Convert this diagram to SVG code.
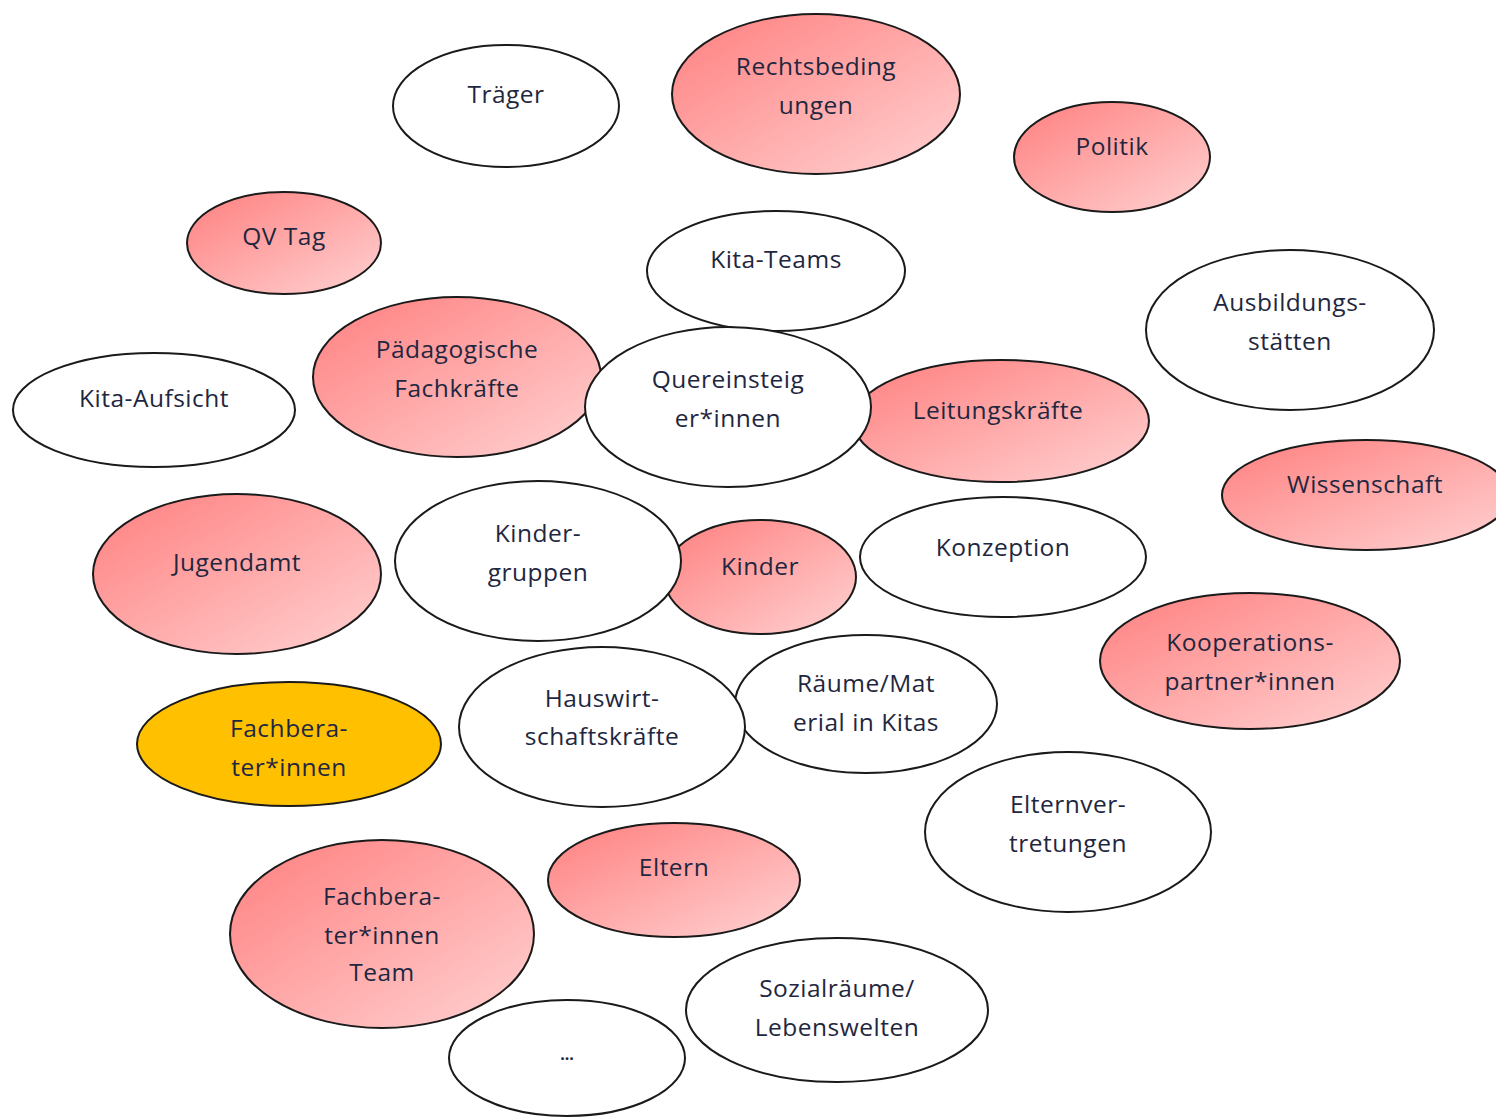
<svg xmlns="http://www.w3.org/2000/svg" width="1496" height="1118" viewBox="0 0 1496 1118">
<defs>
<linearGradient id="pink" x1="0" y1="0" x2="1" y2="1">
<stop offset="0" stop-color="#ff7f7f"/>
<stop offset="1" stop-color="#ffd2d2"/>
</linearGradient>
<style>
.n ellipse{stroke:#1a1a1a;stroke-width:2}
.w ellipse{fill:#ffffff}
.p ellipse{fill:url(#pink)}
.g ellipse{fill:#ffc000}
text{font-family:"Open Sans","Noto Sans","Liberation Sans",sans-serif;font-size:24.5px;letter-spacing:0.5px;fill:#1f2740;text-anchor:middle}
</style>
</defs>
<rect width="1496" height="1118" fill="#ffffff"/>
<g id="connectors"/>
<g id="traeger" class="n w"><ellipse cx="506" cy="106" rx="113" ry="61"/><text x="506" y="103">Träger</text></g>
<g id="rechtsbedingungen" class="n p"><ellipse cx="816" cy="94" rx="144" ry="80"/><text x="816" y="75">Rechtsbeding</text><text x="816" y="114">ungen</text></g>
<g id="politik" class="n p"><ellipse cx="1112" cy="157" rx="98" ry="55"/><text x="1112" y="155">Politik</text></g>
<g id="qvtag" class="n p"><ellipse cx="284" cy="243" rx="97" ry="51"/><text x="284" y="245">QV Tag</text></g>
<g id="kitateams" class="n w"><ellipse cx="776" cy="271" rx="129" ry="60"/><text x="776" y="268">Kita-Teams</text></g>
<g id="ausbildungsstaetten" class="n w"><ellipse cx="1290" cy="330" rx="144" ry="80"/><text x="1290" y="311">Ausbildungs-</text><text x="1290" y="350">stätten</text></g>
<g id="paedagogische" class="n p"><ellipse cx="457" cy="377" rx="144" ry="80"/><text x="457" y="358">Pädagogische</text><text x="457" y="397">Fachkräfte</text></g>
<g id="kitaaufsicht" class="n w"><ellipse cx="154" cy="410" rx="141" ry="57"/><text x="154" y="407">Kita-Aufsicht</text></g>
<g id="leitungskraefte" class="n p"><ellipse cx="1001" cy="421" rx="148" ry="61"/><text x="998" y="419">Leitungskräfte</text></g>
<g id="quereinsteiger" class="n w"><ellipse cx="728" cy="407" rx="143" ry="80"/><text x="728" y="388">Quereinsteig</text><text x="728" y="427">er*innen</text></g>
<g id="wissenschaft" class="n p"><ellipse cx="1366" cy="495" rx="144" ry="55"/><text x="1365" y="493">Wissenschaft</text></g>
<g id="jugendamt" class="n p"><ellipse cx="237" cy="574" rx="144" ry="80"/><text x="237" y="571">Jugendamt</text></g>
<g id="kinder" class="n p"><ellipse cx="760" cy="577" rx="96" ry="57"/><text x="760" y="575">Kinder</text></g>
<g id="kindergruppen" class="n w"><ellipse cx="538" cy="561" rx="143" ry="80"/><text x="538" y="542">Kinder-</text><text x="538" y="581">gruppen</text></g>
<g id="konzeption" class="n w"><ellipse cx="1003" cy="557" rx="143" ry="60"/><text x="1003" y="556">Konzeption</text></g>
<g id="kooperationspartner" class="n p"><ellipse cx="1250" cy="661" rx="150" ry="68"/><text x="1250" y="651">Kooperations-</text><text x="1250" y="690">partner*innen</text></g>
<g id="fachberater" class="n g"><ellipse cx="289" cy="744" rx="152" ry="62"/><text x="289" y="737">Fachbera-</text><text x="289" y="776">ter*innen</text></g>
<g id="raeume" class="n w"><ellipse cx="866" cy="704" rx="131" ry="69"/><text x="866" y="692">Räume/Mat</text><text x="866" y="731">erial in Kitas</text></g>
<g id="hauswirtschaft" class="n w"><ellipse cx="602" cy="727" rx="143" ry="80"/><text x="602" y="707">Hauswirt-</text><text x="602" y="745">schaftskräfte</text></g>
<g id="elternvertretungen" class="n w"><ellipse cx="1068" cy="832" rx="143" ry="80"/><text x="1068" y="813">Elternver-</text><text x="1068" y="852">tretungen</text></g>
<g id="eltern" class="n p"><ellipse cx="674" cy="880" rx="126" ry="57"/><text x="674" y="876">Eltern</text></g>
<g id="fachberaterteam" class="n p"><ellipse cx="382" cy="934" rx="152" ry="94"/><text x="382" y="905">Fachbera-</text><text x="382" y="944">ter*innen</text><text x="382" y="981">Team</text></g>
<g id="sozialraeume" class="n w"><ellipse cx="837" cy="1010" rx="151" ry="72"/><text x="837" y="997">Sozialräume/</text><text x="837" y="1036">Lebenswelten</text></g>
<g id="dots" class="n w"><ellipse cx="567" cy="1058" rx="118" ry="58"/><text x="567" y="1060" style="font-size:16px;font-weight:bold;letter-spacing:0">...</text></g>
</svg>
